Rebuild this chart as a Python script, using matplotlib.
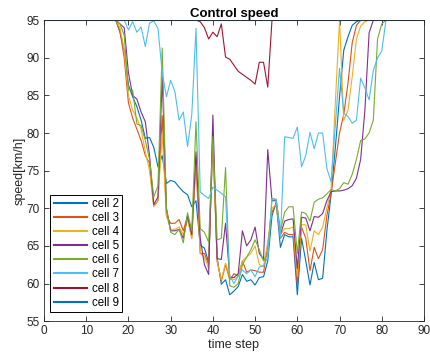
import matplotlib
matplotlib.use("Agg")
import matplotlib.pyplot as plt
import numpy as np

plt.rcParams["font.family"] = ["Liberation Sans", "DejaVu Sans"]

time_steps = np.arange(0, 91)

# speeds, t = 0..90 (95 = capped / free flow)
cell2 = [95.0] * 17 + [
    95, 93.4, 91, 86.4, 84.8, 83.5, 81.7, 79.3, 79.4, 78.1,
    75.5, 77, 73.3, 73.7, 73.5, 72.8, 72.2, 71.8, 70.2, 71,
    65.1, 64.7, 62.8, 79, 63.5, 59.9, 60.5, 58.5, 59, 59.6,
    61.2, 60.3, 60.5, 59.8, 60.8, 60.9, 63, 69, 70.8, 64.8,
    66.5, 66.2, 66.2, 58.5, 66, 63, 59.8, 62.8, 60.5, 60.7,
    67, 71.8, 78, 84.8, 91, 92.8, 94.3, 94.8,
] + [95.0] * 16
cell3 = [95.0] * 17 + [
    95, 93.5, 90, 84, 82, 80.5, 79, 77, 76, 70.3,
    71, 82.3, 69, 68, 68, 68.5, 67, 69, 66, 76,
    64, 64, 62.5, 80, 63, 60.3, 62.5, 60.5, 61.3, 61,
    63, 61.5, 61.8, 61.7, 61.5, 61.5, 65, 69.5, 70.5, 66,
    66.8, 66.5, 66.5, 59.8, 67.5, 66, 61.7, 64.8, 63.3, 64.5,
    69, 72, 76, 80, 82.5, 86.6, 92, 94.3,
] + [95.0] * 16
cell4 = [95.0] * 17 + [
    95, 94, 91, 85, 83, 82, 80.5, 77.5, 75, 70.2,
    71, 80, 69, 67.2, 67.2, 67.5, 66.5, 68.5, 66, 77,
    64, 63.5, 62, 79, 63, 60.5, 62.7, 60.8, 60.5, 61,
    63, 63.5, 64, 65, 62.5, 62.3, 65.5, 70, 70.5, 66.5,
    67.3, 67.3, 67.5, 61, 67.8, 67.8, 64.3, 67, 66.5, 67.5,
    70, 72.5, 84, 95, 81.7, 83, 87.5, 92.5, 94.2, 94.8,
] + [95.0] * 14
cell5 = [95.0] * 17 + [
    95, 94.5, 94, 88, 85, 84.5, 82.8, 81.5, 77, 70.5,
    71.5, 87.5, 70, 67, 67, 67.2, 66, 69, 66.5, 77.5,
    66, 62.5, 61.2, 82.4, 63.3, 63.2, 68, 60.8, 60.8, 61.3,
    67, 65, 65.8, 67.5, 64, 63.2, 77.8, 71, 71, 66.5,
    68.3, 68.5, 68.6, 62, 68.8, 68.7, 67, 68.9, 68.8, 69.3,
    71, 72.2, 72.3, 72.3, 72.4, 72.6, 73, 74, 76.5, 83,
    93.3,
] + [95.0] * 13
cell6 = [95.0] * 17 + [
    95, 94.5, 93, 85.7, 85.7, 81.2, 81, 79, 76.5, 71.5,
    73, 91.3, 70, 66.8, 66.5, 67.2, 65.4, 69.4, 67, 81.5,
    67.3, 66.8, 65.5, 79.5, 65.8, 66, 75.4, 59.7, 59.5, 60,
    62.5, 63.5, 64.5, 65.8, 64.5, 63, 64, 71.3, 71.2, 67,
    69.5, 70.2, 70.2, 64, 69.5, 69.3, 68.3, 70.8, 71.2, 71.4,
    71.9, 72.5, 72.3, 72.6, 73.4, 73.2, 74.5, 76.5, 79, 79.2,
    80, 81.7, 92.5, 94.5,
] + [95.0] * 10
cell7 = [95.0] * 19 + [
    95, 93.7, 94.8, 93.4, 94.1, 91.5, 94.6, 94.9, 93.9, 88,
    84.8, 87, 85.5, 81.7, 82.8, 78.2, 82.4, 93.9, 72.2, 71.7,
    71.3, 72.8, 72.4, 72, 71.5, 61, 60, 61, 61.8, 61.3,
    61.8, 60.9, 62.2, 62.3, 63.5, 71.3, 71.1, 66, 79.5, 79.4,
    79.3, 80.8, 75.5, 77, 80.1, 77.9, 80, 80, 75.3, 73.5,
    81, 88.6, 82.6, 82.2, 81.3, 81.7, 87.3, 86, 84.4, 88.3,
    90, 90.9,
] + [95.0] * 10
cell8 = [95.0] * 37 + [
    94.8, 94, 92.5, 93.4, 92.8, 94.5, 90.1, 89.8, 89, 88.2,
    87.8, 87.4, 87, 86.5, 89.4, 89.4, 86.1,
] + [95.0] * 37
cell9 = [95.0] * 91

series = [cell2, cell3, cell4, cell5, cell6, cell7, cell8, cell9]
labels = ["cell 2", "cell 3", "cell 4", "cell 5", "cell 6", "cell 7", "cell 8", "cell 9"]
# MATLAB default colour order, wraps after 7
colors = ["#0072BD", "#D95319", "#EDB120", "#7E2F8E", "#77AC30", "#4DBEEE", "#A2142F", "#0072BD"]

axis_grey = "#262626"

fig = plt.figure(figsize=(4.3, 3.6), dpi=100)
ax = fig.add_axes([0.1023, 0.108, 0.8837, 0.836])

for y, lab, col in zip(series, labels, colors):
    ax.plot(time_steps, y, color=col, lw=0.8, label=lab)

ax.set_xlim(0, 90)
ax.set_ylim(55, 95)
ax.set_xticks(np.arange(0, 91, 10))
ax.set_yticks(np.arange(55, 96, 5))
ax.tick_params(direction="in", length=3.5, width=0.6, top=True, right=True,
               labelsize=8.5, colors=axis_grey, pad=3)
for sp in ax.spines.values():
    sp.set_color(axis_grey)
    sp.set_linewidth(0.6)

ax.set_title("Control speed", fontsize=9.5, fontweight="bold", pad=2)
ax.set_xlabel("time step", fontsize=9, color=axis_grey, labelpad=1)
ax.set_ylabel("speed[km/h]", fontsize=9, color=axis_grey, labelpad=1)

leg = ax.legend(loc="lower left", bbox_to_anchor=(0.016, 0.03), borderaxespad=0,
                fontsize=8.3, handlelength=2.9, handletextpad=0.4, labelspacing=0.18,
                borderpad=0.3, fancybox=False, framealpha=1)
leg.get_frame().set_edgecolor("black")
leg.get_frame().set_linewidth(0.7)
for h in leg.get_lines():
    h.set_linewidth(1.5)

fig.savefig("out.png", dpi=100)
